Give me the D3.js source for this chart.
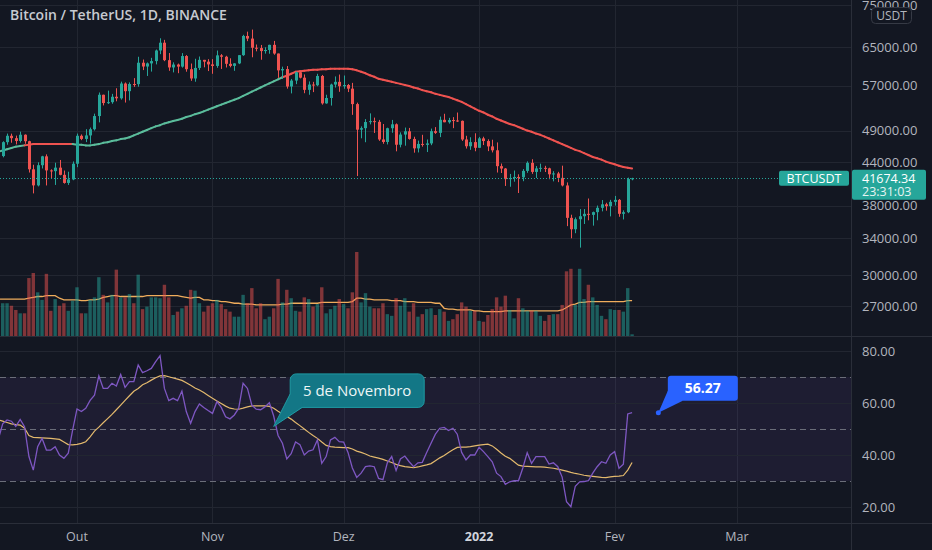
<!DOCTYPE html>
<html>
<head>
<meta charset="utf-8">
<script src="https://cdn.jsdelivr.net/npm/d3@7"></script>
<style>
  body { margin: 0; background: #131722; }
  svg { display: block; font-family: "Open Sans", "Noto Sans", sans-serif; }
</style>
</head>
<body>
<svg id="chart" width="932" height="550"></svg>
<script>
// BTCUSDT daily candles, 13 Sep 2021 -> 5 Feb 2022 (one value per day)
const startDate = "2021-09-13";

const opens = [
  46030, 44940, 47110, 48140, 47750, 47300, 48310, 47260, 42970, 40690,
  43570, 44900, 42810, 42700, 43210, 42170, 41030, 41520, 43790, 48140,
  47630, 48200, 49220, 51470, 55320, 53790, 53950, 54950, 54660, 57470,
  56000, 57370, 57350, 61670, 60880, 61530, 62010, 64280, 66000, 62210,
  60690, 61290, 60860, 63080, 60330, 58460, 60590, 62270, 61890, 61320,
  61000, 63230, 62930, 61440, 61010, 61530, 63270, 67530, 66930, 64880,
  64810, 64150, 64390, 65520, 63620, 60090, 60360, 56890, 58050, 59710,
  58620, 56250, 57270, 57130, 58960, 53730, 54720, 57270, 57800, 56950,
  57180, 56480, 53600, 49150, 49400, 50440, 50590, 50470, 47540, 47140,
  49390, 50050, 46700, 48340, 48880, 47630, 46130, 46830, 46680, 46910,
  48900, 48620, 50820, 50400, 50780, 50700, 50640, 47540, 46460, 47120,
  46220, 47720, 47290, 46440, 45830, 43430, 43080, 41560, 41730, 41870,
  41820, 42740, 43920, 42590, 43100, 43180, 43110, 42250, 42370, 41740,
  40680, 36450, 35070, 36280, 36650, 36950, 36820, 37160, 37710, 38160,
  37920, 38480, 38740, 36950, 37150, 41570
];
const highs = [
  46880, 47250, 48500, 48490, 48170, 48820, 48370, 47340, 43640, 44000,
  44980, 45200, 42970, 43940, 44350, 42790, 42620, 44130, 48500, 48360,
  49230, 49500, 51890, 55750, 55340, 56100, 55490, 56560, 57840, 57680,
  57690, 58530, 62930, 62340, 61720, 62700, 64490, 67000, 66640, 63730,
  61750, 61490, 63710, 63290, 61500, 62500, 62980, 62270, 62410, 62420,
  64270, 63500, 63130, 62600, 61560, 63290, 67790, 68520, 69000, 65600,
  65500, 64990, 65550, 66400, 63620, 60850, 60980, 58370, 59850, 60050,
  59270, 57880, 57800, 59400, 59170, 55330, 57440, 58870, 59250, 59050,
  57380, 57600, 53860, 49700, 50940, 51940, 51200, 50800, 50100, 49480,
  50800, 50200, 48700, 49500, 49440, 47990, 47360, 48300, 47540, 49330,
  49580, 51380, 51870, 51160, 51280, 52090, 50700, 48140, 47900, 48550,
  47950, 47990, 47570, 47500, 47070, 43820, 43150, 42300, 42790, 42250,
  43000, 44140, 44460, 43450, 43800, 43480, 43200, 42700, 42600, 43500,
  41100, 36840, 36500, 37550, 37550, 38920, 37230, 38000, 38720, 38360,
  38740, 39260, 38850, 37390, 41770, 41750
];
const lows = [
  43370, 44750, 46700, 47020, 46750, 47050, 46850, 42500, 39600, 40550,
  43090, 40680, 41650, 40750, 42100, 40930, 40750, 41410, 43280, 47430,
  47120, 46890, 49010, 50380, 53360, 53620, 53660, 54110, 54420, 53880,
  54270, 56820, 56850, 60150, 58960, 59840, 61320, 63480, 62000, 60000,
  59680, 59520, 60650, 59820, 58000, 57820, 60170, 60720, 59950, 59400,
  60620, 60380, 60680, 60720, 60000, 61380, 63120, 66350, 62820, 64100,
  62300, 63600, 63580, 63360, 58580, 58370, 56480, 55580, 57350, 58480,
  55610, 55320, 55820, 56950, 53500, 53660, 53330, 56690, 55880, 56460,
  55830, 51680, 42000, 47730, 47100, 50040, 48600, 47320, 46850, 46750,
  48640, 45670, 46290, 46550, 47510, 45460, 45500, 46400, 45560, 46630,
  48450, 47920, 50400, 50160, 49400, 50440, 47310, 46100, 45900, 45680,
  46210, 46650, 45700, 45500, 42500, 42430, 40610, 40500, 41200, 39650,
  41270, 42460, 42310, 41720, 42600, 42580, 41550, 41250, 41140, 40550,
  35440, 34010, 34600, 32950, 35700, 36150, 35500, 36150, 37260, 37350,
  36630, 38000, 36580, 36250, 37030, 41400
];
const closes = [
  44940, 47110, 48140, 47750, 47300, 48310, 47260, 42970, 40690, 43570,
  44900, 42810, 42700, 43210, 42170, 41030, 41520, 43790, 48140, 47630,
  48200, 49220, 51470, 55320, 53790, 53950, 54950, 54660, 57470, 56000,
  57370, 57350, 61670, 60880, 61530, 62010, 64280, 66000, 62210, 60690,
  61290, 60860, 63080, 60330, 58460, 60590, 62270, 61890, 61320, 61000,
  63230, 62930, 61440, 61010, 61530, 63270, 67530, 66930, 64880, 64810,
  64150, 64390, 65520, 63620, 60090, 60360, 56890, 58050, 59710, 58620,
  56250, 57270, 57130, 58960, 53730, 54720, 57270, 57800, 56950, 57180,
  56480, 53600, 49150, 49400, 50440, 50590, 50470, 47540, 47140, 49390,
  50050, 46700, 48340, 48880, 47630, 46130, 46830, 46680, 46910, 48900,
  48620, 50820, 50400, 50780, 50700, 50640, 47540, 46460, 47120, 46220,
  47720, 47290, 46440, 45830, 43430, 43080, 41560, 41730, 41870, 41820,
  42740, 43920, 42590, 43100, 43180, 43110, 42250, 42370, 41740, 40680,
  36450, 35070, 36280, 36650, 36950, 36820, 37160, 37710, 38160, 37920,
  38480, 38740, 36950, 37150, 41570, 41674.34
];

// moving average on price (USDT)
const priceMA = [
  45600, 45800, 46000, 46200, 46400, 46500, 46600, 46700, 46800, 46800,
  46800, 46800, 46800, 46800, 46800, 46800, 46800, 46800, 46700, 46700,
  46600, 46600, 46700, 46800, 47000, 47100, 47300, 47400, 47600, 47700,
  47900, 48200, 48500, 48800, 49100, 49400, 49700, 49900, 50200, 50400,
  50600, 50800, 51000, 51300, 51500, 51800, 52000, 52300, 52600, 52900,
  53200, 53500, 53800, 54100, 54400, 54700, 55100, 55500, 55900, 56300,
  56700, 57100, 57500, 57900, 58300, 58700, 59000, 59400, 59800, 59900,
  60000, 60100, 60200, 60200, 60300, 60300, 60400, 60400, 60400, 60400,
  60400, 60300, 60100, 59800, 59500, 59100, 58800, 58400, 58200, 58000,
  57800, 57600, 57400, 57200, 57000, 56700, 56500, 56200, 56000, 55800,
  55500, 55300, 55100, 54900, 54600, 54300, 54000, 53600, 53200, 52800,
  52400, 52100, 51700, 51400, 51000, 50700, 50400, 50100, 49900, 49600,
  49300, 49000, 48800, 48500, 48300, 48000, 47700, 47400, 47100, 46800,
  46500, 46200, 45900, 45700, 45400, 45100, 44800, 44600, 44400, 44100,
  43900, 43700, 43500, 43300, 43200, 43100
];

// volume, thousand BTC
const volumes = [
  58, 39, 39, 36, 31, 27, 27, 69, 75, 52,
  43, 74, 30, 44, 36, 39, 30, 42, 58, 27,
  27, 43, 46, 70, 49, 40, 49, 79, 46, 46,
  50, 39, 73, 32, 35, 46, 46, 45, 61, 46,
  25, 29, 33, 36, 55, 54, 39, 29, 36, 39,
  43, 38, 32, 29, 23, 23, 49, 39, 57, 33,
  39, 20, 23, 33, 68, 40, 55, 45, 30, 29,
  46, 44, 35, 38, 58, 27, 32, 36, 44, 38,
  33, 52, 100, 40, 51, 35, 33, 33, 39, 26,
  24, 45, 36, 45, 29, 39, 23, 26, 32, 33,
  25, 32, 29, 18, 20, 26, 40, 35, 30, 30,
  18, 17, 25, 32, 46, 35, 48, 31, 21, 45,
  33, 30, 30, 30, 24, 18, 25, 26, 26, 37,
  77, 80, 37, 80, 44, 61, 46, 37, 24, 20,
  32, 31, 31, 29, 57, 2
];
const volumeMA = [
  44, 44, 44, 44, 44, 44, 44, 45, 46, 47,
  47, 48, 48, 48, 45, 43, 43, 43, 43, 42,
  42, 43, 43, 44, 46, 47, 48, 48, 47, 47,
  47, 47, 47, 47, 48, 48, 48, 48, 48, 48,
  48, 48, 47, 46, 45, 46, 46, 43, 43, 42,
  42, 41, 41, 40, 39, 39, 38, 38, 38, 37,
  37, 37, 37, 37, 37, 38, 38, 39, 39, 39,
  39, 39, 39, 39, 40, 40, 40, 40, 40, 40,
  40, 41, 45, 45, 44, 44, 43, 43, 43, 43,
  42, 42, 42, 41, 41, 41, 40, 40, 40, 40,
  39, 39, 33, 32, 32, 31, 31, 31, 31, 30,
  30, 29, 29, 29, 29, 29, 30, 30, 30, 30,
  30, 30, 30, 30, 30, 30, 30, 30, 30, 31,
  34, 37, 38, 40, 40, 41, 41, 41, 41, 41,
  41, 41, 41, 41, 42, 42
];

// RSI pane
const rsi = [
  46, 52, 53.5, 53, 51, 53.7, 50.9, 39.4, 34.2, 43.2,
  46.4, 41.9, 41.9, 43.2, 40, 38.7, 40.7, 49.6, 57.7, 56.7,
  58, 61, 63, 70.4, 65.6, 65.6, 67.6, 66.5, 71, 66,
  68.2, 68.2, 74.6, 71.7, 72.4, 73.3, 75.9, 78.2, 65.6, 60.9,
  61.8, 60.9, 64.6, 56.7, 52.2, 56.7, 59.6, 58.3, 57.1, 56,
  60.5, 58.3, 54.7, 53.9, 55.4, 58, 67.6, 65.6, 59.2, 57.6,
  57.4, 58.5, 60.1, 55, 47.5, 44.5, 38.5, 40.5, 45, 44,
  40, 41.5, 42, 45.8, 36.8, 39.4, 45.8, 46.8, 45.1, 45,
  41, 35, 31.4, 33, 35.5, 35.8, 35.5, 31, 30.5, 37,
  39.4, 34, 38.5, 39.6, 37.4, 35.5, 37, 37.2, 41, 44.5,
  48, 50.3, 50.6, 49.4, 50.3, 48, 41, 38.1, 40, 40,
  43, 41.3, 39.4, 37.4, 33, 31.7, 28.7, 29.7, 30.1, 30.1,
  35, 40.9, 36.8, 39.4, 39.4, 39.4, 36.5, 37, 35.5, 31.5,
  22, 20.1, 28, 29.7, 29.8, 30.1, 33, 35.5, 37.4, 36.8,
  40, 41.3, 34.9, 36.5, 55.8, 56.27
];
const rsiMA = [
  53.5, 53, 52.5, 52, 51.7, 51.5, 50.3, 47.5, 46.8, 46.7,
  46.6, 46.5, 46.4, 46.2, 46, 45, 44, 43.9, 44.1, 44.5,
  45.1, 47, 49.2, 50.7, 52.4, 54, 55.6, 57.4, 59.2, 61,
  62.8, 64.5, 65.6, 67, 67.8, 68.8, 69.7, 70.4, 70.5, 70.1,
  69.6, 69.2, 68.7, 67.8, 66.8, 65.8, 65, 64, 62.9, 61.8,
  60.8, 59.8, 58.8, 58, 57.7, 57.6, 58, 58.5, 58.9, 58.9,
  58.9, 58.9, 58.7, 58, 56.8, 55.8, 54.8, 53.8, 52.5, 51.3,
  50, 48.7, 47.5, 46.4, 45, 43.7, 43.2, 43, 42.9, 42.8,
  42.8, 42.3, 41.5, 41, 40.4, 39.6, 39.2, 38.8, 38.3, 37.7,
  37.1, 36.4, 35.9, 35.5, 35.3, 35.1, 35.4, 35.8, 36.2, 36.7,
  37.8, 38.9, 39.8, 41, 42, 42.9, 43, 43, 43.2, 43.5,
  43.8, 44, 44.2, 43.5, 42.2, 40.8, 39.5, 38.7, 37.4, 36.1,
  35.7, 35.6, 35.5, 35.4, 35.4, 35.3, 35.1, 34.9, 34.6, 34.2,
  33.8, 33.3, 32.9, 32.6, 32.2, 32, 31.8, 31.6, 31.4, 31.3,
  31.6, 31.8, 31.9, 32.1, 34.2, 37.1
];

// axes
const priceTicks = [75000, 65000, 57000, 49000, 44000, 38000, 34000, 30000, 27000];
const rsiTicks = [80, 60, 40, 20];
const rsiLevels = [70, 50, 30];
const monthDates = ["2021-10-01", "2021-11-01", "2021-12-01", "2022-01-01", "2022-02-01", "2022-03-01"];
const monthLabels = ["Out", "Nov", "Dez", "2022", "Fev", "Mar"];

// annotations
const noteText = "5 de Novembro";
const noteDate = "2021-11-15", noteRsi = 51;
const lastRsiDate = "2022-02-11";
const symbol = "BTCUSDT", countdown = "23:31:03";
const title = "Bitcoin / TetherUS, 1D, BINANCE";

// ---------------------------------------------------------------
const W = 932, H = 550;
const plotW = 851;               // price scale starts here
const paneSplit = 336.5;         // price / RSI separator
const rsiBottom = 523.5;         // RSI / time axis separator
const GREEN = "#26a69a", RED = "#ef5350";
const GRID = "#222631", TEXT = "#b2b5be";

const svg = d3.select("#chart");
const parse = d3.utcParse("%Y-%m-%d");
const start = parse(startDate);
const dates = closes.map((_, i) => d3.utcDay.offset(start, i));
const last = closes.length - 1;

const x = d3.scaleUtc()
  .domain([parse("2021-10-01"), parse("2022-03-01")])
  .range([77, 737]);
const yPrice = d3.scaleLog().domain([24420, 76280]).range([336, 0]);
const yVol = d3.scaleLinear().domain([0, 100]).range([336, 252]);
const yRsi = d3.scaleLinear().domain([20, 80]).range([507, 351]);

svg.append("rect").attr("width", W).attr("height", H).attr("fill", "#131722");

const defs = svg.append("defs");
defs.append("clipPath").attr("id", "clipPrice")
  .append("rect").attr("x", 0).attr("y", 0).attr("width", plotW).attr("height", paneSplit);
defs.append("clipPath").attr("id", "clipRsi")
  .append("rect").attr("x", 0).attr("y", paneSplit).attr("width", plotW).attr("height", rsiBottom - paneSplit);

const snap = v => Math.round(v) + 0.5;

// grid: month verticals
svg.append("g").selectAll("line")
  .data(monthDates)
  .join("line")
  .attr("x1", d => snap(x(parse(d)))).attr("x2", d => snap(x(parse(d))))
  .attr("y1", 0).attr("y2", rsiBottom)
  .attr("stroke", GRID);

// grid: price horizontals
svg.append("g").selectAll("line")
  .data(priceTicks)
  .join("line")
  .attr("x1", 0).attr("x2", plotW)
  .attr("y1", d => snap(yPrice(d))).attr("y2", d => snap(yPrice(d)))
  .attr("stroke", GRID);

// ---------------- price pane ----------------
const price = svg.append("g").attr("clip-path", "url(#clipPrice)");

// volume MA (under the bars)
price.append("path")
  .datum(volumeMA)
  .attr("fill", "none")
  .attr("stroke", "#f0ad5c")
  .attr("stroke-width", 1.3)
  .attr("d", d3.line().x((d, i) => x(dates[i])).y(d => yVol(d)));

price.append("g").selectAll("rect")
  .data(volumes)
  .join("rect")
  .attr("x", (d, i) => x(dates[i]) - 1.7)
  .attr("width", 3.4)
  .attr("y", d => yVol(d))
  .attr("height", d => yVol(0) - yVol(d))
  .attr("fill", (d, i) => closes[i] >= opens[i] ? GREEN : RED)
  .attr("opacity", 0.5);

// price moving average, coloured by close above / below it
const maSegs = d3.range(1, closes.length);
price.append("g").selectAll("line")
  .data(maSegs)
  .join("line")
  .attr("x1", i => x(dates[i - 1])).attr("y1", i => yPrice(priceMA[i - 1]))
  .attr("x2", i => x(dates[i])).attr("y2", i => yPrice(priceMA[i]))
  .attr("stroke", i => closes[i] >= priceMA[i] ? "#5bbd9c" : RED)
  .attr("stroke-width", 2)
  .attr("stroke-linecap", "round");

// candles
const candles = price.append("g").selectAll("g")
  .data(closes)
  .join("g")
  .attr("fill", (c, i) => c >= opens[i] ? GREEN : RED)
  .attr("stroke", (c, i) => c >= opens[i] ? GREEN : RED);

candles.append("line")
  .attr("x1", (c, i) => Math.round(x(dates[i])) + 0.5)
  .attr("x2", (c, i) => Math.round(x(dates[i])) + 0.5)
  .attr("y1", (c, i) => yPrice(highs[i]))
  .attr("y2", (c, i) => yPrice(lows[i]));

candles.append("rect")
  .attr("stroke", "none")
  .attr("x", (c, i) => Math.round(x(dates[i])) - 1)
  .attr("width", 3)
  .attr("y", (c, i) => Math.min(yPrice(c), yPrice(opens[i])))
  .attr("height", (c, i) => Math.max(1, Math.abs(yPrice(c) - yPrice(opens[i]))));

// last price dotted line + symbol tag
const yLast = yPrice(closes[last]);
svg.append("line")
  .attr("x1", 0).attr("x2", 779)
  .attr("y1", snap(yLast)).attr("y2", snap(yLast))
  .attr("stroke", GREEN).attr("stroke-dasharray", "1,2");

svg.append("rect")
  .attr("x", 779).attr("y", yLast - 7.5).attr("width", 70).attr("height", 15)
  .attr("rx", 2).attr("fill", GREEN);
svg.append("text")
  .attr("x", 814).attr("y", yLast).attr("dy", "0.35em")
  .attr("text-anchor", "middle").attr("fill", "#fff").attr("font-size", 12.5)
  .text(symbol);

// title
svg.append("text")
  .attr("x", 10).attr("y", 19.5)
  .attr("fill", "#c7cad1").attr("font-size", 14).attr("font-weight", 600)
  .text(title);

// ---------------- RSI pane ----------------
const rsiG = svg.append("g").attr("clip-path", "url(#clipRsi)");

rsiG.append("rect")
  .attr("x", 0).attr("width", plotW)
  .attr("y", yRsi(70)).attr("height", yRsi(30) - yRsi(70))
  .attr("fill", "rgba(126,87,194,0.1)");

rsiG.append("g").selectAll("line")
  .data(rsiTicks)
  .join("line")
  .attr("x1", 0).attr("x2", plotW)
  .attr("y1", d => snap(yRsi(d))).attr("y2", d => snap(yRsi(d)))
  .attr("stroke", GRID);

rsiG.append("g").selectAll("line")
  .data(rsiLevels)
  .join("line")
  .attr("x1", 0).attr("x2", plotW)
  .attr("y1", d => snap(yRsi(d))).attr("y2", d => snap(yRsi(d)))
  .attr("stroke", "#6b6e79").attr("stroke-dasharray", "6,4");

rsiG.append("path")
  .datum(rsiMA)
  .attr("fill", "none").attr("stroke", "#e3b96d").attr("stroke-width", 1.2)
  .attr("d", d3.line().x((d, i) => x(dates[i])).y(d => yRsi(d)));

rsiG.append("path")
  .datum(rsi)
  .attr("fill", "none").attr("stroke", "#7e57c2").attr("stroke-width", 1.3)
  .attr("d", d3.line().x((d, i) => x(dates[i])).y(d => yRsi(d)));

// callout "5 de Novembro"
const tipX = x(parse(noteDate)), tipY = yRsi(noteRsi);
const bx = tipX + 16.5, by = tipY - 52.5, bw = 134, bh = 33.5;
svg.append("rect")
  .attr("x", bx).attr("y", by).attr("width", bw).attr("height", bh).attr("rx", 6)
  .attr("fill", "#137786").attr("stroke", "#1f9aa3");
svg.append("path")
  .attr("d", `M${bx},${by + 20} L${tipX},${tipY} L${bx + 12},${by + bh} L${bx + 12},${by + 20} Z`)
  .attr("fill", "#137786");
svg.append("path")
  .attr("d", `M${bx},${by + 20} L${tipX},${tipY} L${bx + 12},${by + bh}`)
  .attr("fill", "none").attr("stroke", "#1f9aa3");
svg.append("text")
  .attr("x", bx + bw / 2).attr("y", by + bh / 2).attr("dy", "0.35em")
  .attr("text-anchor", "middle").attr("fill", "#eef6f6").attr("font-size", 15)
  .text(noteText);

// callout with last RSI value
const rX = x(parse(lastRsiDate)), rY = yRsi(rsi[last]);
const cbx = rX + 9.5, cby = rY - 37, cbw = 70, cbh = 25;
svg.append("path")
  .attr("d", `M${cbx},${cby + 15} L${rX},${rY} L${cbx + 15},${cby + cbh} Z`)
  .attr("fill", "#2962ff");
svg.append("rect")
  .attr("x", cbx).attr("y", cby).attr("width", cbw).attr("height", cbh).attr("rx", 3)
  .attr("fill", "#2962ff");
svg.append("circle").attr("cx", rX).attr("cy", rY).attr("r", 2.5).attr("fill", "#2962ff");
svg.append("text")
  .attr("x", cbx + cbw / 2).attr("y", cby + cbh / 2).attr("dy", "0.35em")
  .attr("text-anchor", "middle").attr("fill", "#fff")
  .attr("font-size", 14).attr("font-weight", 700)
  .text(d3.format(".2f")(rsi[last]));

// ---------------- separators & scales ----------------
svg.append("line").attr("x1", 0).attr("x2", W).attr("y1", paneSplit).attr("y2", paneSplit)
  .attr("stroke", "#2a2e39");
svg.append("line").attr("x1", 0).attr("x2", W).attr("y1", rsiBottom).attr("y2", rsiBottom)
  .attr("stroke", "#2a2e39");
svg.append("line").attr("x1", plotW + 0.5).attr("x2", plotW + 0.5).attr("y1", 0).attr("y2", H)
  .attr("stroke", "#2a2e39");

const fmt = d3.format(".2f");
svg.append("g").selectAll("text")
  .data(priceTicks)
  .join("text")
  .attr("x", 862).attr("y", d => yPrice(d)).attr("dy", "0.35em")
  .attr("fill", TEXT).attr("font-size", 13)
  .text(fmt);

svg.append("g").selectAll("text")
  .data(rsiTicks)
  .join("text")
  .attr("x", 862).attr("y", d => yRsi(d)).attr("dy", "0.35em")
  .attr("fill", TEXT).attr("font-size", 13)
  .text(fmt);

// currency badge
svg.append("rect")
  .attr("x", 871.5).attr("y", 7.5).attr("width", 40).attr("height", 16).attr("rx", 4)
  .attr("fill", "#131722").attr("stroke", "#363a45");
svg.append("text")
  .attr("x", 891.5).attr("y", 15.5).attr("dy", "0.35em")
  .attr("text-anchor", "middle").attr("fill", TEXT).attr("font-size", 12)
  .text("USDT");

// last price label on the scale
svg.append("rect")
  .attr("x", plotW + 1).attr("y", yLast - 8.5).attr("width", 74).attr("height", 30).attr("rx", 2)
  .attr("fill", GREEN);
svg.append("text")
  .attr("x", 862).attr("y", yLast).attr("dy", "0.35em")
  .attr("fill", "#fff").attr("font-size", 12.5)
  .text(fmt(closes[last]));
svg.append("text")
  .attr("x", 862).attr("y", yLast + 13.5).attr("dy", "0.35em")
  .attr("fill", "#e6f4f2").attr("font-size", 12.5)
  .text(countdown);

// time axis
svg.append("g").selectAll("text")
  .data(monthDates)
  .join("text")
  .attr("x", d => x(parse(d))).attr("y", 537).attr("dy", "0.35em")
  .attr("text-anchor", "middle")
  .attr("fill", (d, i) => monthLabels[i] === "2022" ? "#d1d4dc" : TEXT)
  .attr("font-weight", (d, i) => monthLabels[i] === "2022" ? 700 : 400)
  .attr("font-size", 12.5)
  .text((d, i) => monthLabels[i]);
</script>
</body>
</html>
